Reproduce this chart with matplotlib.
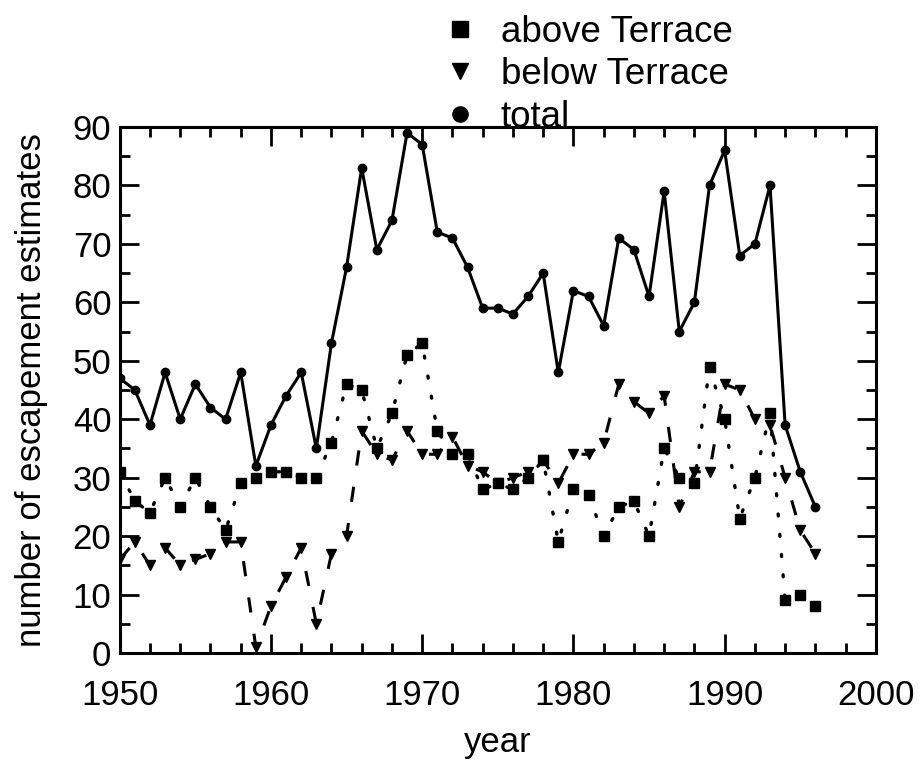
import matplotlib.pyplot as plt
from matplotlib.lines import Line2D
from matplotlib.ticker import MultipleLocator

plt.rcParams['font.family'] = ['Liberation Sans', 'DejaVu Sans']

# escapement estimates
years = list(range(1950, 1997))
total = [47, 45, 39, 48, 40, 46, 42, 40, 48, 32,
         39, 44, 48, 35, 53, 66, 83, 69, 74, 89,
         87, 72, 71, 66, 59, 59, 58, 61, 65, 48,
         62, 61, 56, 71, 69, 61, 79, 55, 60, 80,
         86, 68, 70, 80, 39, 31, 25]
above = [31, 26, 24, 30, 25, 30, 25, 21, 29, 30,
         31, 31, 30, 30, 36, 46, 45, 35, 41, 51,
         53, 38, 34, 34, 28, 29, 28, 30, 33, 19,
         28, 27, 20, 25, 26, 20, 35, 30, 29, 49,
         40, 23, 30, 41, 9, 10, 8]
below = [16, 19, 15, 18, 15, 16, 17, 19, 19, 1,
         8, 13, 18, 5, 17, 20, 38, 34, 33, 38,
         34, 34, 37, 32, 31, 29, 30, 31, 33, 29,
         34, 34, 36, 46, 43, 41, 44, 25, 31, 31,
         46, 45, 40, 39, 30, 21, 17]

fig = plt.figure(figsize=(9.21, 7.64), dpi=100)
ax = fig.add_axes([0.130, 0.1453, 0.821, 0.6885])

ax.plot(years, total, color='black', lw=2.2, marker='o', ms=6)
ax.plot(years, above, color='black', lw=2.4, ls=(0, (0.6, 5.5)),
        dash_capstyle='round', marker='s', ms=6.5)
ax.plot(years, below, color='black', lw=2.2, ls=(0, (5, 7)),
        marker='v', ms=7.5)

ax.set_xlim(1950, 2000)
ax.set_ylim(0, 90)
ax.xaxis.set_major_locator(MultipleLocator(10))
ax.xaxis.set_minor_locator(MultipleLocator(2))
ax.yaxis.set_major_locator(MultipleLocator(10))
ax.yaxis.set_minor_locator(MultipleLocator(5))
ax.tick_params(which='both', direction='in', top=True, right=True,
               labelsize=25, width=2)
ax.tick_params(which='major', length=14)
ax.tick_params(which='minor', length=7)
ax.tick_params(axis='x', pad=19)
ax.tick_params(axis='y', pad=6)
for s in ax.spines.values():
    s.set_linewidth(2.2)

ax.set_xlabel('year', fontsize=25, labelpad=10)
ax.set_ylabel('number of escapement estimates', fontsize=25, labelpad=18)

handles = [Line2D([], [], color='black', marker='s', ls='none', ms=11),
           Line2D([], [], color='black', marker='v', ls='none', ms=12),
           Line2D([], [], color='black', marker='o', ls='none', ms=11)]
fig.legend(handles, ['above Terrace', 'below Terrace', 'total'],
           loc='upper left', bbox_to_anchor=(0.444, 1.024), frameon=False,
           fontsize=26.5, handlelength=1.0, handletextpad=0.6,
           labelspacing=0.2)

fig.savefig('out.png', dpi=100)
